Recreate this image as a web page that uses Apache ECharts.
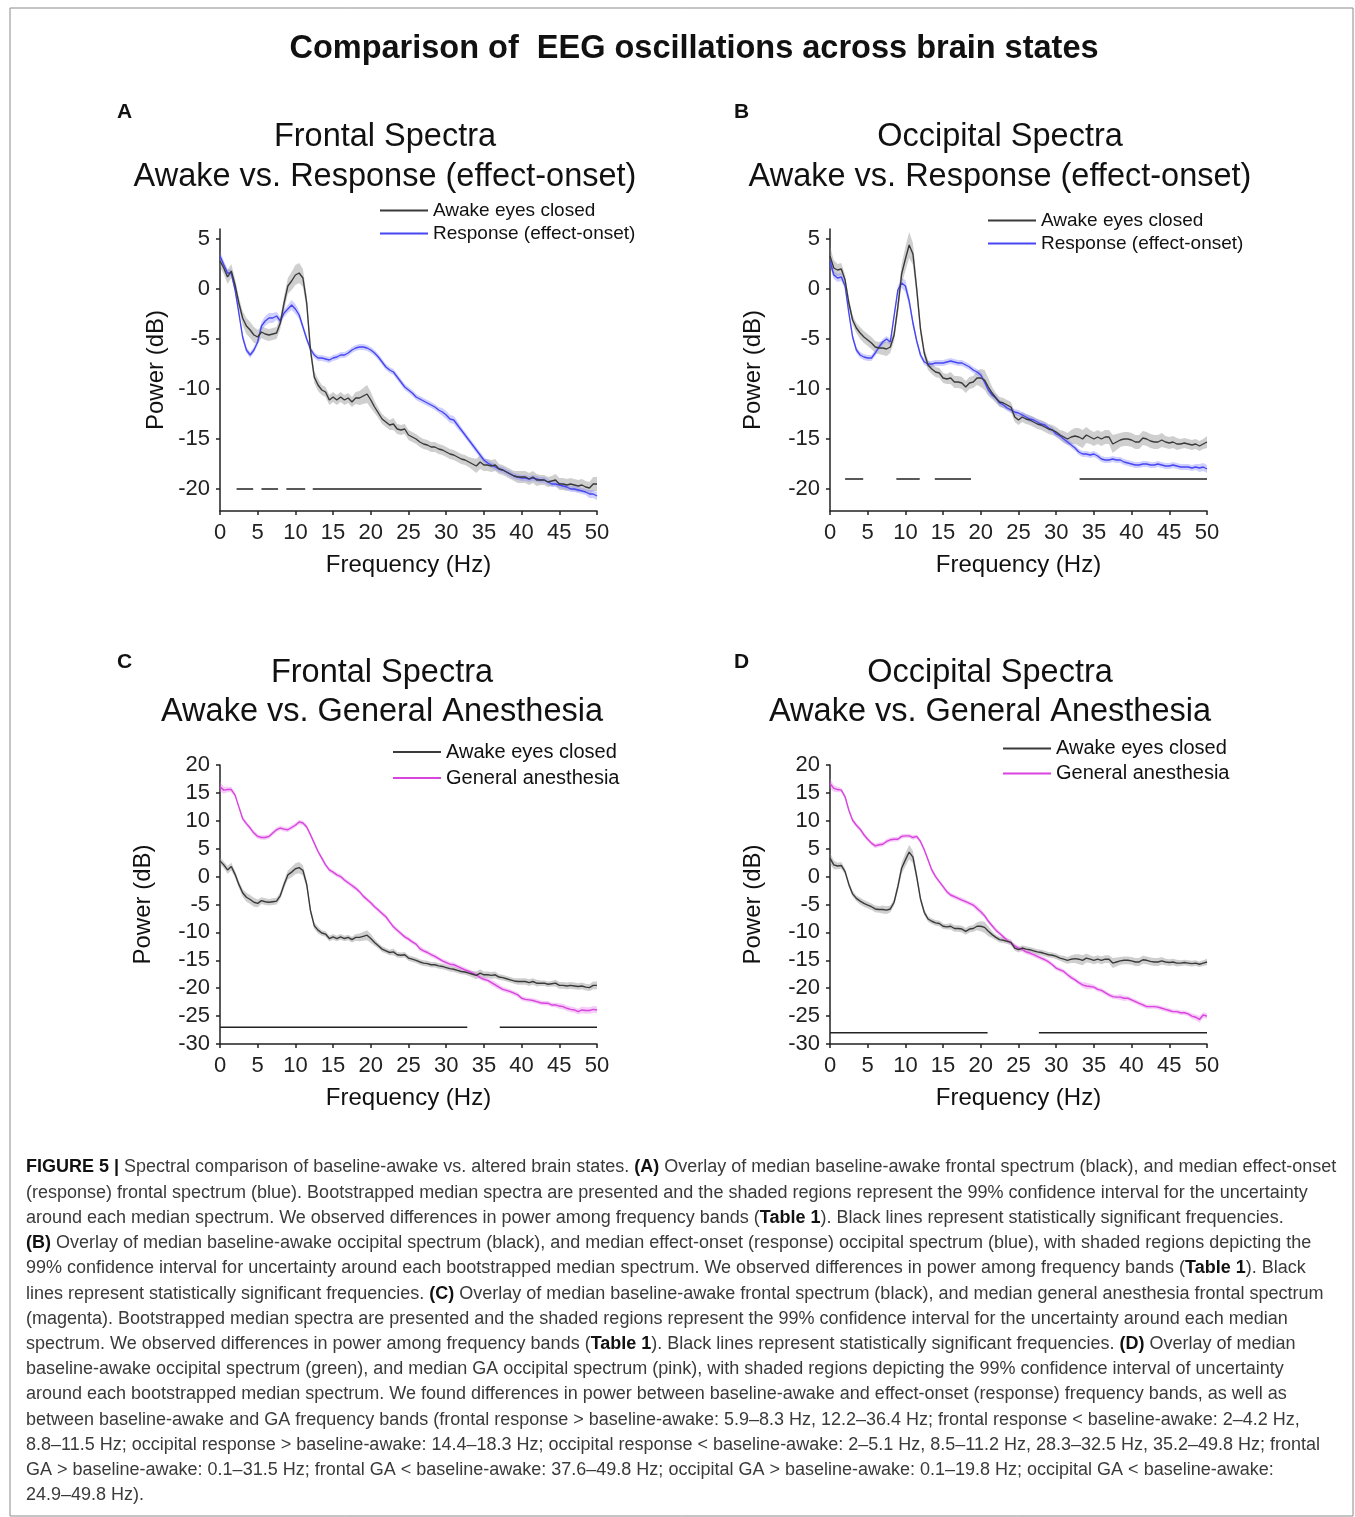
<!DOCTYPE html>
<html><head><meta charset="utf-8">
<script src="https://cdn.jsdelivr.net/npm/echarts@6/dist/echarts.min.js"></script>
<style>html,body{margin:0;padding:0;background:#fff}#chart{width:1355px;height:1517px}</style>
</head><body><div id="chart"></div>
<script>
const FONT = '"Liberation Sans", Arial, Helvetica, sans-serif';

// Frequency grid (Hz)
const freqHz = [0,0.5,1,1.5,2,2.5,3,3.5,4,4.5,5,5.5,6,6.5,7,7.5,8,8.5,9,9.5,
10,10.5,11,11.5,12,12.5,13,13.5,14,14.5,15,15.5,16,16.5,17,17.5,18,18.5,19,19.5,
20,20.5,21,21.5,22,22.5,23,23.5,24,24.5,25,25.5,26,26.5,27,27.5,28,28.5,29,29.5,
30,30.5,31,31.5,32,32.5,33,33.5,34,34.5,35,35.5,36,36.5,37,37.5,38,38.5,39,39.5,
40,40.5,41,41.5,42,42.5,43,43.5,44,44.5,45,45.5,46,46.5,47,47.5,48,48.5,49,49.5,50];

const yTicksTop = [-20,-15,-10,-5,0,5];

// Median spectra (dB)
const awakeFrontal = [2.8,2.1,1.2,1.8,0.4,-1.4,-2.9,-3.7,-4.1,-4.6,
-4.8,-4.3,-4.5,-4.6,-4.5,-4.4,-3.4,-1.4,0.3,0.8,
1.4,1.6,1.1,-1.4,-6.1,-8.8,-9.6,-10.1,-10.3,-11.1,
-10.8,-11.1,-10.8,-11.1,-10.9,-11.3,-10.9,-10.9,-10.7,-10.5,
-11.1,-11.8,-12.4,-13.0,-13.3,-13.6,-13.5,-14.0,-14.1,-14.0,
-14.6,-14.8,-15.0,-15.3,-15.5,-15.6,-15.8,-15.8,-16.0,-16.1,
-16.3,-16.5,-16.6,-16.8,-17.0,-17.1,-17.3,-17.5,-17.7,-17.3,
-17.6,-17.6,-17.7,-17.6,-18.0,-18.1,-18.3,-18.5,-18.7,-18.8,
-18.8,-18.8,-19.0,-18.8,-19.1,-19.1,-19.1,-19.3,-19.2,-19.1,
-19.5,-19.5,-19.6,-19.5,-19.6,-19.7,-19.6,-19.8,-19.9,-19.5,-19.5];

const responseFrontal = [3.3,2.4,1.6,1.6,-0.1,-2.4,-4.8,-6.1,-6.6,-6.1,
-5.3,-3.7,-3.2,-2.9,-2.9,-2.7,-3.2,-2.4,-2.0,-1.6,
-2.0,-2.6,-3.8,-5.0,-6.0,-6.6,-6.9,-6.9,-7.0,-7.1,
-6.9,-6.8,-6.6,-6.6,-6.4,-6.1,-5.9,-5.8,-5.8,-5.9,
-6.1,-6.4,-6.8,-7.3,-7.8,-8.1,-8.3,-8.8,-9.3,-9.8,
-10.1,-10.4,-10.8,-11.0,-11.2,-11.4,-11.6,-11.8,-12.1,-12.3,
-12.6,-13.0,-13.1,-13.6,-14.1,-14.6,-15.1,-15.6,-16.1,-16.6,
-17.1,-17.4,-17.6,-17.8,-18.0,-18.1,-18.3,-18.5,-18.7,-18.8,
-18.9,-18.9,-19.0,-18.9,-19.0,-19.1,-19.1,-19.3,-19.5,-19.5,
-19.6,-19.7,-19.8,-20.0,-20.0,-20.1,-20.2,-20.3,-20.5,-20.5,-20.7];

const awakeOccipital = [3.3,2.1,1.9,2.0,0.9,-1.4,-3.1,-3.9,-4.4,-4.8,
-5.1,-5.4,-5.8,-5.9,-5.9,-6.0,-5.8,-4.6,-1.8,1.5,
3.0,4.4,3.5,0.0,-4.0,-6.4,-7.6,-8.0,-8.3,-8.4,
-8.9,-9.0,-8.9,-9.3,-9.3,-9.4,-9.8,-9.4,-9.3,-8.9,
-8.9,-9.1,-9.8,-10.4,-10.9,-11.3,-11.4,-11.6,-11.8,-12.8,
-13.1,-12.8,-13.0,-13.1,-13.3,-13.5,-13.6,-13.8,-14.0,-14.1,
-14.3,-14.6,-14.8,-15.0,-14.8,-14.7,-14.8,-15.0,-14.6,-14.8,
-15.0,-14.8,-15.0,-14.8,-14.8,-15.5,-15.3,-15.1,-15.0,-15.0,
-15.1,-15.3,-15.3,-14.9,-15.0,-15.2,-15.3,-15.3,-15.1,-15.3,
-15.4,-15.3,-15.5,-15.5,-15.4,-15.5,-15.6,-15.5,-15.7,-15.5,-15.3];

const responseOccipital = [2.8,1.4,1.1,1.2,0.3,-2.4,-4.8,-6.1,-6.6,-6.8,
-6.9,-6.9,-6.4,-5.8,-5.3,-5.0,-5.3,-2.7,-0.1,0.6,
0.3,-1.2,-3.4,-5.2,-6.6,-7.3,-7.5,-7.5,-7.4,-7.4,
-7.4,-7.3,-7.2,-7.3,-7.4,-7.4,-7.6,-7.8,-8.1,-8.3,
-8.6,-9.3,-10.1,-10.6,-10.9,-11.4,-11.6,-11.9,-12.1,-12.3,
-12.4,-12.6,-12.8,-13.0,-13.1,-13.3,-13.5,-13.6,-13.9,-14.1,
-14.5,-14.7,-15.0,-15.3,-15.6,-15.9,-16.3,-16.5,-16.5,-16.6,
-16.5,-16.7,-17.0,-17.1,-17.1,-17.0,-17.1,-17.1,-17.3,-17.4,
-17.5,-17.6,-17.6,-17.5,-17.5,-17.6,-17.6,-17.5,-17.6,-17.7,
-17.7,-17.6,-17.7,-17.8,-17.8,-17.8,-17.9,-17.8,-17.9,-17.8,-18.0];

const gaFrontal = [16.1,15.5,15.6,15.6,14.6,12.5,10.4,9.5,8.7,7.8,
7.2,7.0,7.0,7.2,7.8,8.4,8.7,8.5,8.4,8.8,
9.2,9.8,9.6,8.9,7.5,6.0,4.5,3.3,2.1,1.2,
0.8,0.3,0.0,-0.6,-1.1,-1.6,-2.1,-2.7,-3.5,-4.1,
-4.7,-5.4,-6.0,-6.6,-7.2,-8.1,-9.0,-9.6,-10.2,-10.8,
-11.2,-11.7,-12.1,-12.9,-13.3,-13.6,-14.0,-14.3,-14.7,-15.1,
-15.4,-15.7,-15.8,-16.1,-16.4,-16.7,-17.0,-17.3,-17.6,-18.1,
-18.4,-18.6,-19.0,-19.4,-19.8,-20.2,-20.4,-20.6,-20.9,-21.2,
-21.8,-22.0,-22.1,-22.2,-22.4,-22.6,-22.7,-22.7,-23.0,-23.0,
-23.2,-23.3,-23.6,-23.8,-23.9,-24.2,-23.9,-24.0,-24.0,-23.8,-23.9];

const gaOccipital = [16.7,15.8,15.6,15.5,14.3,11.9,10.1,9.2,8.5,7.5,
6.7,6.0,5.5,5.7,5.8,6.3,6.6,6.7,6.7,7.2,
7.3,7.3,7.0,7.2,6.3,4.8,3.0,1.2,0.0,-0.9,
-1.8,-2.7,-3.3,-3.6,-3.9,-4.2,-4.5,-4.8,-5.1,-5.7,
-6.3,-7.0,-8.0,-8.8,-9.6,-10.2,-10.8,-11.4,-11.9,-12.4,
-12.8,-13.1,-13.5,-13.7,-14.0,-14.3,-14.6,-14.9,-15.3,-15.8,
-16.4,-16.7,-17.0,-17.6,-18.1,-18.5,-19.0,-19.4,-19.6,-19.7,
-19.8,-20.2,-20.4,-20.8,-21.2,-21.5,-21.6,-21.6,-21.8,-21.8,
-22.1,-22.4,-22.7,-23.0,-23.3,-23.3,-23.3,-23.4,-23.6,-23.8,
-24.0,-24.2,-24.2,-24.4,-24.4,-24.6,-25.0,-25.2,-25.6,-24.8,-25.0];

// 99% CI half-widths (dB)
const awakeFrontalCI = [0.6,0.6,0.7,0.7,0.6,0.6,0.7,0.8,0.8,0.8,
0.7,0.6,0.6,0.6,0.6,0.6,0.6,0.7,0.8,0.9,
1.0,1.0,0.9,0.7,0.6,0.6,0.6,0.5,0.5,0.5,
0.5,0.5,0.5,0.5,0.5,0.5,0.6,0.7,0.8,0.9,
0.8,0.6,0.5,0.5,0.5,0.5,0.6,0.5,0.5,0.5,
0.5,0.5,0.5,0.5,0.5,0.5,0.5,0.5,0.5,0.5,
0.5,0.5,0.5,0.5,0.5,0.5,0.5,0.6,0.7,0.7,
0.6,0.6,0.6,0.6,0.5,0.5,0.5,0.5,0.5,0.6,
0.6,0.6,0.6,0.6,0.6,0.5,0.5,0.5,0.5,0.6,
0.6,0.6,0.6,0.6,0.6,0.6,0.6,0.6,0.6,0.7,0.7];

const responseFrontalCI = [0.5,0.4,0.4,0.3,0.3,0.3,0.3,0.3,0.3,0.3,
0.3,0.4,0.5,0.5,0.5,0.4,0.4,0.4,0.4,0.5,
0.5,0.4,0.3,0.3,0.3,0.3,0.3,0.3,0.3,0.3,
0.3,0.3,0.3,0.3,0.3,0.3,0.3,0.3,0.3,0.3,
0.3,0.3,0.3,0.3,0.3,0.3,0.3,0.3,0.3,0.3,
0.3,0.3,0.3,0.3,0.3,0.3,0.3,0.3,0.3,0.4,
0.4,0.4,0.4,0.4,0.3,0.3,0.3,0.3,0.3,0.3,
0.3,0.3,0.3,0.3,0.3,0.3,0.3,0.3,0.3,0.3,
0.3,0.3,0.3,0.3,0.3,0.3,0.3,0.3,0.3,0.3,
0.3,0.3,0.3,0.3,0.3,0.3,0.3,0.3,0.4,0.4,0.4];

const awakeOccipitalCI = [1.0,0.8,0.6,0.6,0.5,0.5,0.5,0.5,0.6,0.6,
0.6,0.6,0.6,0.6,0.7,0.7,0.6,0.6,0.8,1.0,
1.2,1.3,1.1,0.8,0.6,0.5,0.5,0.5,0.5,0.5,
0.5,0.5,0.6,0.6,0.6,0.6,0.6,0.6,0.6,0.7,
0.9,1.0,0.9,0.6,0.5,0.5,0.5,0.5,0.5,0.5,
0.5,0.5,0.5,0.5,0.5,0.5,0.5,0.5,0.5,0.5,
0.5,0.5,0.6,0.6,0.7,0.8,0.9,0.9,0.8,0.7,
0.7,0.7,0.7,0.7,0.7,0.9,0.8,0.7,0.7,0.7,
0.7,0.7,0.7,0.7,0.7,0.7,0.7,0.7,0.7,0.6,
0.6,0.6,0.6,0.5,0.5,0.5,0.5,0.5,0.5,0.5,0.6];

const responseOccipitalCI = [0.5,0.4,0.4,0.4,0.3,0.3,0.3,0.3,0.3,0.3,
0.3,0.3,0.3,0.3,0.3,0.3,0.3,0.3,0.4,0.5,
0.6,0.5,0.4,0.3,0.3,0.3,0.3,0.3,0.3,0.3,
0.3,0.3,0.3,0.3,0.3,0.3,0.3,0.3,0.3,0.3,
0.3,0.3,0.3,0.3,0.3,0.3,0.3,0.3,0.3,0.3,
0.3,0.3,0.3,0.3,0.3,0.3,0.3,0.3,0.3,0.3,
0.3,0.3,0.3,0.3,0.3,0.3,0.3,0.3,0.3,0.3,
0.3,0.3,0.3,0.3,0.3,0.3,0.3,0.3,0.3,0.3,
0.3,0.3,0.3,0.3,0.3,0.3,0.3,0.3,0.3,0.3,
0.3,0.3,0.3,0.3,0.3,0.3,0.3,0.3,0.4,0.4,0.4];

const gaFrontalCI = [0.9,0.6,0.5,0.5,0.4,0.4,0.4,0.4,0.4,0.4,
0.4,0.4,0.4,0.4,0.4,0.4,0.4,0.4,0.4,0.4,
0.4,0.4,0.4,0.4,0.4,0.4,0.4,0.4,0.4,0.4,
0.4,0.4,0.4,0.4,0.4,0.4,0.4,0.4,0.4,0.4,
0.4,0.4,0.4,0.4,0.4,0.4,0.4,0.4,0.4,0.4,
0.4,0.4,0.4,0.5,0.4,0.4,0.4,0.4,0.4,0.4,
0.4,0.4,0.4,0.4,0.4,0.4,0.4,0.4,0.4,0.4,
0.4,0.4,0.5,0.5,0.5,0.4,0.4,0.4,0.4,0.4,
0.4,0.4,0.4,0.4,0.4,0.4,0.4,0.4,0.4,0.4,
0.5,0.5,0.5,0.5,0.5,0.5,0.6,0.6,0.6,0.6,0.6];

const gaOccipitalCI = [0.9,0.6,0.5,0.4,0.4,0.4,0.4,0.4,0.4,0.4,
0.4,0.4,0.4,0.4,0.4,0.4,0.4,0.4,0.4,0.4,
0.4,0.4,0.4,0.4,0.4,0.4,0.4,0.4,0.4,0.4,
0.4,0.4,0.4,0.4,0.4,0.4,0.4,0.4,0.4,0.5,
0.5,0.4,0.4,0.4,0.4,0.4,0.4,0.4,0.4,0.4,
0.4,0.4,0.4,0.4,0.4,0.4,0.4,0.4,0.4,0.4,
0.4,0.4,0.4,0.4,0.4,0.4,0.4,0.5,0.6,0.5,
0.4,0.4,0.4,0.4,0.4,0.4,0.4,0.5,0.5,0.4,
0.4,0.4,0.4,0.4,0.4,0.4,0.4,0.4,0.4,0.4,
0.4,0.4,0.4,0.4,0.4,0.4,0.5,0.5,0.6,0.5,0.5];

// Significant-frequency bars: [start Hz, end Hz]
const sigA = [[2.2,4.4],[5.5,7.7],[8.8,11.3],[12.3,34.7]];
const sigB = [[2.0,4.4],[8.8,11.9],[13.9,18.7],[33.1,50]];
const sigC = [[0,32.8],[37.1,50]];
const sigD = [[0,20.9],[27.7,50]];
const sigLevel = [-20, -19, -27, -28];

const NAME_AWAKE = 'Awake eyes closed';
const NAME_RESP = 'Response (effect-onset)';
const NAME_GA = 'General anesthesia';

const COL_AWAKE = '#3a3a3a', BAND_AWAKE = 'rgba(140,140,140,0.42)';
const COL_RESP = '#4646f2', BAND_RESP = 'rgba(120,120,255,0.35)';
const COL_GA = '#d844dd', BAND_GA = 'rgba(232,120,236,0.38)';

function pts(arr){ return freqHz.map((f,k)=>[f, arr[k]]); }

// CI band drawn as one polygon through the axis scale (api.coord)
function bandSeries(i, tag, arr, ci, color){
  const data = freqHz.map((f,k)=>[f, +(arr[k]-ci[k]).toFixed(2), +(arr[k]+ci[k]).toFixed(2)]);
  return {
    type:'custom', name:'_band'+i+tag, xAxisIndex:i, yAxisIndex:i, silent:true, z:1,
    encode:{x:0, y:[1,2]},
    data:data,
    renderItem:function(params, api){
      if (params.dataIndex !== 0) return null;
      const up = [], lo = [];
      for (let k=0; k<data.length; k++){
        up.push(api.coord([data[k][0], data[k][2]]));
        lo.push(api.coord([data[k][0], data[k][1]]));
      }
      return {type:'polygon', shape:{points: up.concat(lo.reverse())}, style:{fill:color, stroke:'none'}};
    }
  };
}
function lineSeries(i, name, arr, color){
  return {type:'line', name:name, xAxisIndex:i, yAxisIndex:i, data:pts(arr), symbol:'none',
    lineStyle:{color:color, width:1.4}, itemStyle:{color:color}, silent:true, z:3};
}
function sigSeries(i, segs, level){
  const d = [];
  segs.forEach(s=>{ d.push([s[0],level]); d.push([s[1],level]); d.push([s[1],'-']); });
  return {type:'line', name:'_sig'+i, xAxisIndex:i, yAxisIndex:i, data:d, symbol:'none',
    connectNulls:false, lineStyle:{color:'#222', width:1.5}, silent:true, z:4};
}

const series = [
  bandSeries(0,'a',awakeFrontal,awakeFrontalCI,BAND_AWAKE),
  bandSeries(0,'b',responseFrontal,responseFrontalCI,BAND_RESP),
  lineSeries(0,NAME_RESP,responseFrontal,COL_RESP), lineSeries(0,NAME_AWAKE,awakeFrontal,COL_AWAKE), sigSeries(0,sigA,sigLevel[0]),
  bandSeries(1,'a',awakeOccipital,awakeOccipitalCI,BAND_AWAKE),
  bandSeries(1,'b',responseOccipital,responseOccipitalCI,BAND_RESP),
  lineSeries(1,NAME_RESP,responseOccipital,COL_RESP), lineSeries(1,NAME_AWAKE,awakeOccipital,COL_AWAKE), sigSeries(1,sigB,sigLevel[1]),
  bandSeries(2,'a',awakeFrontal,awakeFrontalCI,BAND_AWAKE),
  bandSeries(2,'b',gaFrontal,gaFrontalCI,BAND_GA),
  lineSeries(2,NAME_GA,gaFrontal,COL_GA), lineSeries(2,NAME_AWAKE,awakeFrontal,COL_AWAKE), sigSeries(2,sigC,sigLevel[2]),
  bandSeries(3,'a',awakeOccipital,awakeOccipitalCI,BAND_AWAKE),
  bandSeries(3,'b',gaOccipital,gaOccipitalCI,BAND_GA),
  lineSeries(3,NAME_GA,gaOccipital,COL_GA), lineSeries(3,NAME_AWAKE,awakeOccipital,COL_AWAKE), sigSeries(3,sigD,sigLevel[3])
];

const grids = [
  {left:220, top:229, width:377, height:282},
  {left:830, top:229, width:377, height:282},
  {left:220, top:765, width:377, height:279},
  {left:830, top:765, width:377, height:279}
];

const axisLineStyle = {color:'#222', width:1.5};
const xAxes = grids.map((g,i)=>({
  type:'value', gridIndex:i, min:0, max:50, interval:5,
  axisLine:{show:true, lineStyle:axisLineStyle, onZero:false},
  axisTick:{show:true, length:4, lineStyle:axisLineStyle},
  axisLabel:{fontSize:22, color:'#222', fontFamily:FONT, margin:11},
  splitLine:{show:false},
  name:'Frequency (Hz)', nameLocation:'middle', nameGap:42,
  nameTextStyle:{fontSize:24, color:'#111', fontFamily:FONT}
}));
const yGap = [52, 65, 65, 65];
const yAxes = grids.map((g,i)=>{
  const base = {
    type:'value', gridIndex:i,
    axisLine:{show:true, lineStyle:axisLineStyle, onZero:false},
    axisTick:{show:true, length:4, lineStyle:axisLineStyle},
    axisLabel:{fontSize:22, color:'#222', fontFamily:FONT, margin:10},
    splitLine:{show:false},
    name:'Power (dB)', nameLocation:'middle', nameGap:yGap[i], nameRotate:90,
    nameTextStyle:{fontSize:24, color:'#111', fontFamily:FONT}
  };
  if (i < 2) {
    base.min = -22.2; base.max = 6;
    base.axisLabel.customValues = yTicksTop;
    base.axisTick.customValues = yTicksTop;
  } else {
    base.min = -30; base.max = 20; base.interval = 5;
  }
  return base;
});

function legend(left, top, names, fs, lh){
  return {left:left, top:top, orient:'vertical', itemWidth:48, itemHeight:2, itemGap:0,
    icon:'rect', selectedMode:false, padding:0, data:names,
    textStyle:{fontSize:fs, lineHeight:lh, color:'#111', fontFamily:FONT}};
}

const captionLines = [
  '{b|FIGURE 5 |} Spectral comparison of baseline-awake vs. altered brain states. {b|(A)} Overlay of median baseline-awake frontal spectrum (black), and median effect-onset',
  '(response) frontal spectrum (blue). Bootstrapped median spectra are presented and the shaded regions represent the 99% confidence interval for the uncertainty',
  'around each median spectrum. We observed differences in power among frequency bands ({b|Table 1}). Black lines represent statistically significant frequencies.',
  '{b|(B)} Overlay of median baseline-awake occipital spectrum (black), and median effect-onset (response) occipital spectrum (blue), with shaded regions depicting the',
  '99% confidence interval for uncertainty around each bootstrapped median spectrum. We observed differences in power among frequency bands ({b|Table 1}). Black',
  'lines represent statistically significant frequencies. {b|(C)} Overlay of median baseline-awake frontal spectrum (black), and median general anesthesia frontal spectrum',
  '(magenta). Bootstrapped median spectra are presented and the shaded regions represent the 99% confidence interval for the uncertainty around each median',
  'spectrum. We observed differences in power among frequency bands ({b|Table 1}). Black lines represent statistically significant frequencies. {b|(D)} Overlay of median',
  'baseline-awake occipital spectrum (green), and median GA occipital spectrum (pink), with shaded regions depicting the 99% confidence interval of uncertainty',
  'around each bootstrapped median spectrum. We found differences in power between baseline-awake and effect-onset (response) frequency bands, as well as',
  'between baseline-awake and GA frequency bands (frontal response > baseline-awake: 5.9–8.3 Hz, 12.2–36.4 Hz; frontal response < baseline-awake: 2–4.2 Hz,',
  '8.8–11.5 Hz; occipital response > baseline-awake: 14.4–18.3 Hz; occipital response < baseline-awake: 2–5.1 Hz, 8.5–11.2 Hz, 28.3–32.5 Hz, 35.2–49.8 Hz; frontal',
  'GA > baseline-awake: 0.1–31.5 Hz; frontal GA < baseline-awake: 37.6–49.8 Hz; occipital GA > baseline-awake: 0.1–19.8 Hz; occipital GA < baseline-awake:',
  '24.9–49.8 Hz).'
];
const captionY = [1167,1193,1218,1243,1268,1294,1319,1344,1369,1394,1420,1445,1470,1495];

function txt(x, y, text, size, weight, align){
  return {type:'text', x:x, y:y, silent:true,
    style:{text:text, fontSize:size, fontWeight:weight||'normal', fontFamily:FONT, fill:'#111',
      align:align||'center', verticalAlign:'middle'}};
}

const graphics = [
  {type:'rect', shape:{x:10, y:8, width:1343, height:1508}, style:{fill:'none', stroke:'#8a8a8a', lineWidth:1}, silent:true},
  txt(694, 49, 'Comparison of  EEG oscillations across brain states', 32.5, 'bold'),
  txt(117, 112, 'A', 21, 'bold', 'left'),
  txt(734, 112, 'B', 21, 'bold', 'left'),
  txt(117, 662, 'C', 21, 'bold', 'left'),
  txt(734, 662, 'D', 21, 'bold', 'left'),
  txt(385, 137, 'Frontal Spectra', 32.5),
  txt(385, 177, 'Awake vs. Response (effect-onset)', 32.5),
  txt(1000, 137, 'Occipital Spectra', 32.5),
  txt(1000, 177, 'Awake vs. Response (effect-onset)', 32.5),
  txt(382, 673, 'Frontal Spectra', 32.5),
  txt(382, 712, 'Awake vs. General Anesthesia', 32.5),
  txt(990, 673, 'Occipital Spectra', 32.5),
  txt(990, 712, 'Awake vs. General Anesthesia', 32.5)
];
captionLines.forEach((t,k)=>{
  graphics.push({type:'text', x:26, y:captionY[k], silent:true,
    style:{text:t, fontSize:18, fontFamily:FONT, fill:'#3a3a3a', align:'left', verticalAlign:'middle',
      rich:{b:{fontWeight:'bold', fontSize:18, fontFamily:FONT, fill:'#111'}}}});
});

const chart = echarts.init(document.getElementById('chart'), null, {renderer:'canvas'});
chart.setOption({
  animation:false,
  backgroundColor:'#fff',
  grid:grids,
  xAxis:xAxes,
  yAxis:yAxes,
  legend:[
    legend(380, 199, [NAME_AWAKE, NAME_RESP], 19, 23),
    legend(988, 209, [NAME_AWAKE, NAME_RESP], 19, 23),
    legend(393, 739, [NAME_AWAKE, NAME_GA], 20, 26),
    legend(1003, 736, [NAME_AWAKE, NAME_GA], 20, 25)
  ],
  series:series,
  graphic:graphics
});
</script>
</body></html>
